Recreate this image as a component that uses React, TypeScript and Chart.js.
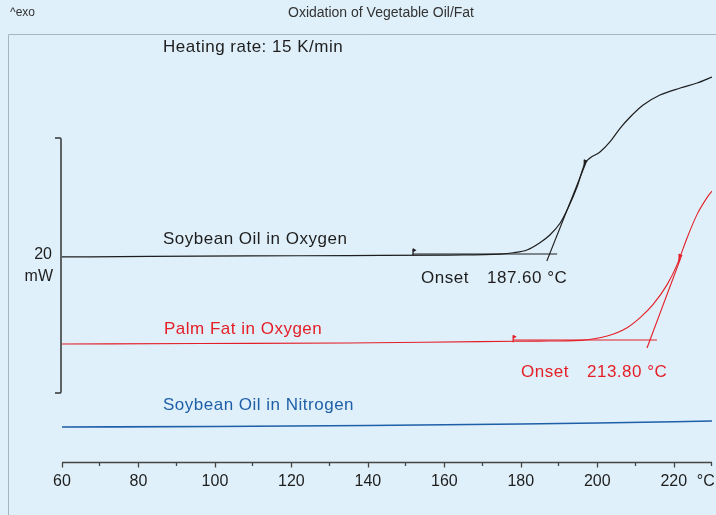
import React, { useEffect, useRef } from 'react';
import { Chart, registerables } from 'chart.js';
Chart.register(...registerables);

// ---- data ----
const tempTicks = [60, 80, 100, 120, 140, 160, 180, 200, 220];
const minorTicks = [70, 90, 110, 130, 150, 170, 190, 210, 230];
const tempUnit = '°C';
const axisMin = 60;
const axisMax = 230;
const heatMin = 0;
const heatMax = 34;

const soyO2Temp = [60, 83, 109, 135, 161.5, 174.6, 178, 181.6, 185, 187.6, 190.3, 192.1, 194.7, 196.8, 198.1, 200.7, 203.3, 206, 208.6, 212, 216.4, 221.7, 226.1, 230];
const soyO2Heat = [16.16, 16.2, 16.24, 16.27, 16.31, 16.39, 16.49, 16.71, 17.28, 17.88, 18.82, 19.84, 21.65, 23.53, 23.92, 24.39, 25.18, 26.27, 27.14, 28.08, 28.86, 29.41, 29.8, 30.27];

const palmO2Temp = [60, 96, 135, 169, 185, 195.5, 202.6, 207.8, 211.2, 214.6, 218.3, 220.9, 223.5, 226.1, 228.7, 230];
const palmO2Heat = [9.33, 9.37, 9.41, 9.52, 9.56, 9.62, 9.96, 10.61, 11.4, 12.44, 14.01, 15.58, 17.67, 19.5, 20.81, 21.33];

const soyN2Temp = [60, 100, 140, 180, 200, 230];
const soyN2Heat = [2.82, 2.86, 2.94, 3.06, 3.14, 3.29];

const soyBaseTanTemp = [151.8, 189.5];
const soyBaseTanHeat = [16.39, 16.39];
const soyInflTanTemp = [186.8, 197.1];
const soyInflTanHeat = [15.84, 23.61];

const palmBaseTanTemp = [178, 215.6];
const palmBaseTanHeat = [9.65, 9.65];
const palmInflTanTemp = [213.0, 222.1];
const palmInflTanHeat = [9.02, 16.3];

const soyMarkTemp = [151.8, 196.6];
const soyMarkHeat = [16.42, 23.4];
const palmMarkTemp = [178, 221.4];
const palmMarkHeat = [9.62, 16.0];

const scaleBarHeat = [5.5, 25.5];
const scaleBarLabel = ['20', 'mW'];

const chartTitle = 'Oxidation of Vegetable Oil/Fat';
const exoLabel = '^exo';
const rateLabel = 'Heating rate: 15 K/min';
const soyO2Label = 'Soybean Oil in Oxygen';
const palmO2Label = 'Palm Fat in Oxygen';
const soyN2Label = 'Soybean Oil in Nitrogen';
const soyOnset = ['Onset', '187.60 °C'];
const palmOnset = ['Onset', '213.80 °C'];

// ---- styles ----
const BG = '#dff0fa';
const BLACK = '#1e1e1e';
const RED = '#e41e26';
const BLUE = '#1f5fa8';
const FONT = '"Liberation Sans", Arial, Helvetica, sans-serif';

const pts = (xs: number[], ys: number[]) => xs.map((x, i) => ({ x, y: ys[i] }));

const bgPlugin = {
  id: 'bg',
  beforeDraw(chart: any) {
    const { ctx, width, height } = chart;
    ctx.save();
    ctx.fillStyle = BG;
    ctx.fillRect(0, 0, width, height);
    ctx.strokeStyle = '#aab6bd';
    ctx.lineWidth = 1;
    ctx.beginPath();
    ctx.moveTo(8.5, height);
    ctx.lineTo(8.5, 34.5);
    ctx.lineTo(width, 34.5);
    ctx.stroke();
    ctx.restore();
  },
};

function flag(ctx: CanvasRenderingContext2D, px: number, py: number, color: string) {
  ctx.strokeStyle = color;
  ctx.fillStyle = color;
  ctx.lineWidth = 1.3;
  ctx.beginPath();
  ctx.moveTo(px, py - 5);
  ctx.lineTo(px, py + 2);
  ctx.stroke();
  ctx.beginPath();
  ctx.moveTo(px, py - 5.5);
  ctx.lineTo(px + 3.5, py - 3.5);
  ctx.lineTo(px, py - 1.5);
  ctx.closePath();
  ctx.fill();
}

function txt(ctx: CanvasRenderingContext2D, s: string, x: number, y: number, color: string, size: number, spacing = 0, align: CanvasTextAlign = 'left') {
  ctx.fillStyle = color;
  ctx.font = `${size}px ${FONT}`;
  (ctx as any).letterSpacing = `${spacing}px`;
  ctx.textAlign = align;
  ctx.textBaseline = 'middle';
  ctx.fillText(s, x, y);
  (ctx as any).letterSpacing = '0px';
}

const annotPlugin = {
  id: 'annot',
  afterDatasetsDraw(chart: any) {
    const { ctx } = chart;
    const xs = chart.scales.x;
    const ys = chart.scales.y;
    ctx.save();

    // header texts
    txt(ctx, exoLabel, 10, 13, '#333', 12);
    txt(ctx, chartTitle, 381, 13, '#333', 14, 0, 'center');
    txt(ctx, rateLabel, 163, 47, BLACK, 17, 0.5);

    // series labels
    txt(ctx, soyO2Label, 163, 239, BLACK, 17, 0.5);
    txt(ctx, palmO2Label, 164, 329, RED, 17, 0.5);
    txt(ctx, soyN2Label, 163, 405, BLUE, 17, 0.5);

    // onset labels
    txt(ctx, soyOnset[0], 421, 278, BLACK, 17, 0.5);
    txt(ctx, soyOnset[1], 487, 278, BLACK, 17, 0.5);
    txt(ctx, palmOnset[0], 521, 372, RED, 17, 0.5);
    txt(ctx, palmOnset[1], 587, 372, RED, 17, 0.5);

    // markers
    soyMarkTemp.forEach((t, i) => flag(ctx, xs.getPixelForValue(t), ys.getPixelForValue(soyMarkHeat[i]), BLACK));
    palmMarkTemp.forEach((t, i) => flag(ctx, xs.getPixelForValue(t), ys.getPixelForValue(palmMarkHeat[i]), RED));

    // scale bar
    const bx = xs.getPixelForValue(axisMin) - 1;
    const bTop = ys.getPixelForValue(scaleBarHeat[1]);
    const bBot = ys.getPixelForValue(scaleBarHeat[0]);
    ctx.strokeStyle = '#333';
    ctx.lineWidth = 1.5;
    ctx.beginPath();
    ctx.moveTo(bx - 6, bTop);
    ctx.lineTo(bx - 1, bTop);
    ctx.quadraticCurveTo(bx, bTop, bx, bTop + 1.5);
    ctx.lineTo(bx, bBot - 1.5);
    ctx.quadraticCurveTo(bx, bBot, bx - 1, bBot);
    ctx.lineTo(bx - 6, bBot);
    ctx.stroke();
    const mid = (bTop + bBot) / 2;
    txt(ctx, scaleBarLabel[0], 52, mid - 11, BLACK, 16, 0, 'right');
    txt(ctx, scaleBarLabel[1], 53, mid + 11, BLACK, 16, 0, 'right');

    // x axis
    const ay = Math.round(ys.getPixelForValue(heatMin)) - 0.5;
    const x0 = xs.getPixelForValue(axisMin);
    const x1 = xs.getPixelForValue(axisMax);
    ctx.strokeStyle = '#444';
    ctx.lineWidth = 1.3;
    ctx.beginPath();
    ctx.moveTo(x0, ay);
    ctx.lineTo(x1, ay);
    tempTicks.forEach((t) => {
      const px = Math.round(xs.getPixelForValue(t)) + 0.5;
      ctx.moveTo(px, ay);
      ctx.lineTo(px, ay + 5);
    });
    minorTicks.forEach((t) => {
      const px = Math.round(xs.getPixelForValue(t)) - 0.5;
      ctx.moveTo(px, ay);
      ctx.lineTo(px, ay + 3.5);
    });
    ctx.stroke();
    tempTicks.forEach((t) => {
      txt(ctx, String(t), xs.getPixelForValue(t), ay + 19, BLACK, 16, 0, 'center');
    });
    txt(ctx, tempUnit, xs.getPixelForValue(tempTicks[tempTicks.length - 1]) + 23, ay + 19, BLACK, 16, 0, 'left');

    ctx.restore();
  },
};

export default function App() {
  const ref = useRef<HTMLCanvasElement>(null);
  useEffect(() => {
    document.body.style.margin = '0';
    document.body.style.background = BG;
    const line = (xs: number[], ys: number[], color: string, width: number, smooth: boolean) => ({
      data: pts(xs, ys),
      borderColor: color,
      borderWidth: width,
      pointRadius: 0,
      fill: false,
      cubicInterpolationMode: smooth ? ('monotone' as const) : ('default' as const),
      tension: 0,
    });
    const chart = new Chart(ref.current!, {
      type: 'line',
      data: {
        datasets: [
          line(soyN2Temp, soyN2Heat, BLUE, 1.6, true),
          line(palmO2Temp, palmO2Heat, RED, 1.1, true),
          line(soyO2Temp, soyO2Heat, BLACK, 1.2, true),
          line(soyBaseTanTemp, soyBaseTanHeat, BLACK, 1.1, false),
          line(soyInflTanTemp, soyInflTanHeat, BLACK, 1.1, false),
          line(palmBaseTanTemp, palmBaseTanHeat, RED, 1.1, false),
          line(palmInflTanTemp, palmInflTanHeat, RED, 1.1, false),
        ] as any,
      },
      options: {
        responsive: false,
        animation: false,
        devicePixelRatio: 1,
        parsing: false,
        layout: { padding: { left: 62, right: 4, top: 29.5, bottom: 52 } },
        scales: {
          x: { type: 'linear', display: false, min: axisMin, max: axisMax },
          y: { type: 'linear', display: false, min: heatMin, max: heatMax },
        },
        plugins: {
          legend: { display: false },
          tooltip: { enabled: false },
          title: { display: false },
        },
      },
      plugins: [bgPlugin, annotPlugin],
    });
    return () => chart.destroy();
  }, []);
  return <canvas ref={ref} width={716} height={515} style={{ display: 'block' }} />;
}
